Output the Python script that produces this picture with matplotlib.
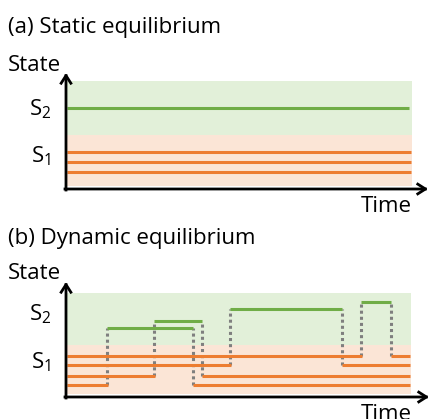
import matplotlib
matplotlib.use("Agg")
import matplotlib.pyplot as plt

plt.rcParams['font.family'] = ['Open Sans', 'DejaVu Sans']
plt.rcParams['mathtext.default'] = 'regular'

W, H = 429, 419
FS = 16

GREEN = '#70AD47'
ORANGE = '#ED7D31'
GREEN_BAND = '#E2F0D9'
ORANGE_BAND = '#FBE5D6'
DOT = '#7F7F7F'

# ---- panel (a): static equilibrium ----
a_band_s1 = (3, 54)
a_band_s2 = (54, 108)
a_band_end = 346
a_s2_levels = [81]
a_s1_levels = [37, 27, 17]
a_line_start = 1
a_line_end = 345

# ---- panel (b): dynamic equilibrium ----
b_band_s1 = (3, 52)
b_band_s2 = (52, 104)
b_band_end = 345
b_s1_levels = [41, 32, 21, 12]          # each particle's S1 level
b_s2_levels = [95, 88, 76, 69]          # level of each particle while in S2
b_jump_up = [295, 164, 88, 41]          # time of S1 -> S2
b_jump_down = [325, 276, 136, 127]      # time of S2 -> S1
b_line_start = 1
b_line_end = 344

fig = plt.figure(figsize=(W / 100, H / 100), dpi=100)


def make_axes(x0, y0, x1, y1):
    # pixel box: origin (x0, y0 bottom), top-right (x1, y1)
    ax = fig.add_axes([x0 / W, 1 - y0 / H, (x1 - x0) / W, (y0 - y1) / H])
    ax.set_xlim(0, x1 - x0)
    ax.set_ylim(0, y0 - y1)
    ax.axis('off')
    return ax


def draw_axes_arrows(ax):
    xm = ax.get_xlim()[1]
    ym = ax.get_ylim()[1]
    ap = dict(arrowstyle='->,head_length=0.55,head_width=0.35', lw=2.0,
              color='black', shrinkA=0, shrinkB=0, capstyle='projecting')
    ax.annotate('', xy=(xm, 0), xytext=(-1, 0), arrowprops=ap,
                annotation_clip=False, zorder=10)
    ax.annotate('', xy=(0, ym), xytext=(0, -1), arrowprops=ap,
                annotation_clip=False, zorder=10)


def px(x, y):
    return (x / W, 1 - y / H)


# panel a
axa = make_axes(66, 189, 428, 73)
axa.fill_between([0, a_band_end], *a_band_s1, color=ORANGE_BAND, lw=0, zorder=0)
axa.fill_between([0, a_band_end], *a_band_s2, color=GREEN_BAND, lw=0, zorder=0)
for lv in a_s2_levels:
    axa.plot([a_line_start, a_line_end - 2], [lv, lv], color=GREEN, lw=2.2,
             solid_capstyle='butt', zorder=3)
for lv in a_s1_levels:
    axa.plot([a_line_start, a_line_end], [lv, lv], color=ORANGE, lw=2.2,
             solid_capstyle='butt', zorder=3)
draw_axes_arrows(axa)

# panel b
axb = make_axes(66, 397, 429, 282)
axb.fill_between([0, b_band_end], *b_band_s1, color=ORANGE_BAND, lw=0, zorder=0)
axb.fill_between([0, b_band_end], *b_band_s2, color=GREEN_BAND, lw=0, zorder=0)
for lo, hi, tu, td in zip(b_s1_levels, b_s2_levels, b_jump_up, b_jump_down):
    axb.plot([b_line_start, tu + 1], [lo, lo], color=ORANGE, lw=2.2,
             solid_capstyle='butt', zorder=3)
    axb.plot([td, b_line_end], [lo, lo], color=ORANGE, lw=2.2,
             solid_capstyle='butt', zorder=3)
    axb.plot([tu, td], [hi, hi], color=GREEN, lw=2.2,
             solid_capstyle='butt', zorder=3)
    for t in (tu, td):
        axb.plot([t, t], [lo, hi], color=DOT, lw=2.2,
                 linestyle=(0, (1, 1.0)), zorder=2)
draw_axes_arrows(axb)

# texts
fig.text(*px(8, 33), '(a) Static equilibrium', fontsize=FS, va='baseline', ha='left')
fig.text(*px(8, 71), 'State', fontsize=FS, va='baseline', ha='left')
fig.text(*px(51, 115), '$S_2$', fontsize=FS, va='baseline', ha='right')
fig.text(*px(51, 162), '$S_1$', fontsize=FS, va='baseline', ha='right')
fig.text(*px(412, 212), 'Time', fontsize=FS, va='baseline', ha='right')

fig.text(*px(8, 244), '(b) Dynamic equilibrium', fontsize=FS, va='baseline', ha='left')
fig.text(*px(8, 279), 'State', fontsize=FS, va='baseline', ha='left')
fig.text(*px(51, 320), '$S_2$', fontsize=FS, va='baseline', ha='right')
fig.text(*px(51, 368), '$S_1$', fontsize=FS, va='baseline', ha='right')
fig.text(*px(412, 420), 'Time', fontsize=FS, va='baseline', ha='right')

fig.savefig('out.png', dpi=100, facecolor='white')
